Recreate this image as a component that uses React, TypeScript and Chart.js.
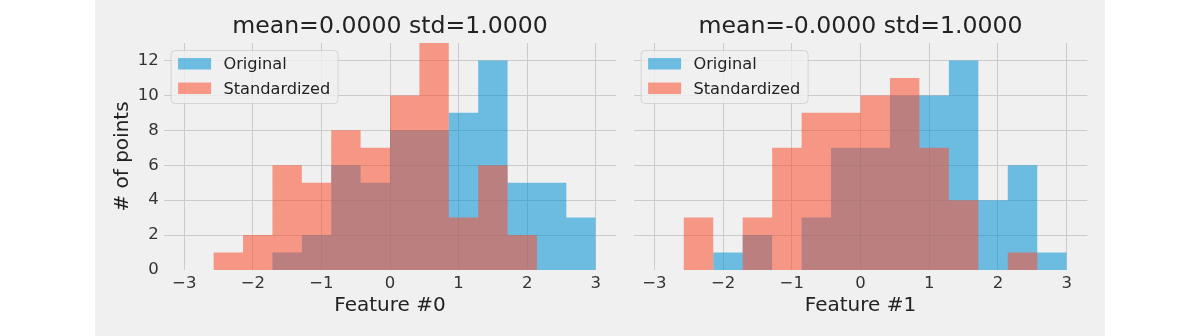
import { useEffect, useRef } from 'react';
import { Chart, registerables } from 'chart.js';

Chart.register(...registerables);

// Shared histogram bins (14 equal-width bins over [-3, 3])
const binEdges = [
  -3, -2.5714, -2.1429, -1.7143, -1.2857, -0.8571, -0.4286, 0,
  0.4286, 0.8571, 1.2857, 1.7143, 2.1429, 2.5714, 3,
];

// Counts per bin, Feature #0
const feature0Original = [0, 0, 0, 1, 2, 6, 5, 8, 8, 9, 12, 5, 5, 3];
const feature0Standardized = [0, 1, 2, 6, 5, 8, 7, 10, 13, 3, 6, 2, 0, 0];

// Counts per bin, Feature #1
const feature1Original = [0, 0, 1, 2, 0, 3, 7, 7, 10, 10, 12, 4, 6, 1];
const feature1Standardized = [0, 3, 0, 3, 7, 9, 9, 10, 11, 7, 4, 0, 1, 0];

const seriesLabels = ['Original', 'Standardized'];
const panelTitles = ['mean=0.0000 std=1.0000', 'mean=-0.0000 std=1.0000'];
const featureTitles = ['Feature #0', 'Feature #1'];
const yAxisTitle = '# of points';

const xTickValues = [-3, -2, -1, 0, 1, 2, 3];
const xTickLabels = ['\u22123', '\u22122', '\u22121', '0', '1', '2', '3'];
const yTickValues = [0, 2, 4, 6, 8, 10, 12];
const yTickLabels = ['0', '2', '4', '6', '8', '10', '12'];

const xLimits = [-3.3, 3.3];
const yLimits = [0, 13];

const FONT = "'DejaVu Sans', 'Liberation Sans', sans-serif";
const BLUE = 'rgba(0, 143, 213, 0.55)';
const RED = 'rgba(252, 79, 48, 0.55)';
const GRID = '#cbcbcb';
const TEXT = '#222222';
const TICK_TEXT = '#333333';

// Step outline of a histogram: one point per left bin edge, closed at the last edge.
function stepPoints(counts: number[]) {
  const pts = counts.map((c, i) => ({ x: binEdges[i], y: c }));
  pts.push({ x: binEdges[binEdges.length - 1], y: 0 });
  return pts;
}

// Framed legend in the upper-left corner of the plot area.
const framedLegend = {
  id: 'framedLegend',
  afterDatasetsDraw(chart: any) {
    const { ctx, chartArea } = chart;
    const x0 = chartArea.left + 7.4;
    const y0 = chartArea.top + 7.5;
    const w = 167;
    const h = 53;
    const r = 4;
    ctx.save();
    ctx.beginPath();
    ctx.moveTo(x0 + r, y0);
    ctx.lineTo(x0 + w - r, y0);
    ctx.arcTo(x0 + w, y0, x0 + w, y0 + r, r);
    ctx.lineTo(x0 + w, y0 + h - r);
    ctx.arcTo(x0 + w, y0 + h, x0 + w - r, y0 + h, r);
    ctx.lineTo(x0 + r, y0 + h);
    ctx.arcTo(x0, y0 + h, x0, y0 + h - r, r);
    ctx.lineTo(x0, y0 + r);
    ctx.arcTo(x0, y0, x0 + r, y0, r);
    ctx.closePath();
    ctx.fillStyle = 'rgba(240, 240, 240, 0.8)';
    ctx.fill();
    ctx.lineWidth = 1;
    ctx.strokeStyle = 'rgba(204, 204, 204, 0.8)';
    ctx.stroke();

    ctx.font = `16.2px ${FONT}`;
    ctx.textAlign = 'left';
    ctx.textBaseline = 'alphabetic';
    chart.data.datasets.forEach((ds: any, i: number) => {
      const rowY = y0 + i * 24.5;
      ctx.fillStyle = ds.backgroundColor;
      ctx.fillRect(x0 + 7, rowY + 7.5, 33, 11.5);
      ctx.fillStyle = TEXT;
      ctx.fillText(ds.label, x0 + 52.3, rowY + 18.6);
    });
    ctx.restore();
  },
};

type PanelSpec = {
  title: string;
  xTitle: string;
  original: number[];
  standardized: number[];
  showYLabels: boolean;
  yAxisWidth: number;
  padRight: number;
};

function buildChart(canvas: HTMLCanvasElement, p: PanelSpec) {
  return new Chart(canvas, {
    type: 'line',
    data: {
      datasets: [
        {
          label: seriesLabels[0],
          data: stepPoints(p.original),
          backgroundColor: BLUE,
          borderColor: 'transparent',
          borderWidth: 0,
          pointRadius: 0,
          stepped: 'before',
          fill: 'origin',
          order: 1,
        },
        {
          label: seriesLabels[1],
          data: stepPoints(p.standardized),
          backgroundColor: RED,
          borderColor: 'transparent',
          borderWidth: 0,
          pointRadius: 0,
          stepped: 'before',
          fill: 'origin',
          order: 0,
        },
      ],
    },
    options: {
      responsive: false,
      animation: false,
      events: [],
      layout: { padding: { left: 0, right: p.padRight, top: 0, bottom: 0 } },
      plugins: {
        legend: { display: false },
        tooltip: { enabled: false },
        title: {
          display: true,
          text: p.title,
          fullSize: false,
          color: TEXT,
          font: { family: FONT, size: 23.6, weight: 'normal' },
          padding: { top: 12.9, bottom: 1.8 },
        },
      },
      scales: {
        x: {
          type: 'linear',
          min: xLimits[0],
          max: xLimits[1],
          afterBuildTicks: (s: any) => {
            s.ticks = xTickValues.map((v) => ({ value: v }));
          },
          afterFit: (s: any) => {
            s.height = 66;
          },
          grid: { color: GRID, lineWidth: 1, drawTicks: false },
          border: { display: false },
          ticks: {
            autoSkip: false,
            maxRotation: 0,
            padding: 3.4,
            color: TICK_TEXT,
            font: { family: FONT, size: 16.5 },
            callback: (_v: any, i: number) => xTickLabels[i],
          },
          title: {
            display: true,
            text: p.xTitle,
            color: TEXT,
            font: { family: FONT, size: 20 },
            padding: { top: 0, bottom: 17.9 },
          },
        },
        y: {
          type: 'linear',
          min: yLimits[0],
          max: yLimits[1],
          afterBuildTicks: (s: any) => {
            s.ticks = yTickValues.map((v) => ({ value: v }));
          },
          afterFit: (s: any) => {
            s.width = p.yAxisWidth;
          },
          grid: {
            // the zero line sits on the lower plot edge and is not drawn
            color: (c: any) => (c.tick && c.tick.value === 0 ? 'rgba(0,0,0,0)' : GRID),
            lineWidth: 1,
            drawTicks: false,
          },
          border: { display: false },
          ticks: {
            display: p.showYLabels,
            padding: 5,
            color: TICK_TEXT,
            font: { family: FONT, size: 16.5 },
            callback: (_v: any, i: number) => yTickLabels[i],
          },
          title: {
            display: p.showYLabels,
            text: yAxisTitle,
            color: TEXT,
            font: { family: FONT, size: 20 },
            padding: { top: 15.6, bottom: 0 },
          },
        },
      },
    } as any,
    plugins: [framedLegend],
  });
}

export default function App() {
  const leftRef = useRef<HTMLCanvasElement>(null);
  const rightRef = useRef<HTMLCanvasElement>(null);

  useEffect(() => {
    const charts: Chart[] = [];
    if (leftRef.current) {
      charts.push(
        buildChart(leftRef.current, {
          title: panelTitles[0],
          xTitle: featureTitles[0],
          original: feature0Original,
          standardized: feature0Standardized,
          showYLabels: true,
          yAxisWidth: 68.7,
          padRight: 8.7,
        })
      );
    }
    if (rightRef.current) {
      charts.push(
        buildChart(rightRef.current, {
          title: panelTitles[1],
          xTitle: featureTitles[1],
          original: feature1Original,
          standardized: feature1Standardized,
          showYLabels: false,
          yAxisWidth: 8.7,
          padRight: 17.7,
        })
      );
    }
    return () => charts.forEach((c) => c.destroy());
  }, []);

  return (
    <div
      style={{
        position: 'fixed',
        left: 0,
        top: 0,
        width: 1200,
        height: 336,
        background: '#ffffff',
        overflow: 'hidden',
      }}
    >
      <div
        style={{
          position: 'absolute',
          left: 95,
          top: 0,
          width: 1010,
          height: 336,
          background: '#f0f0f0',
        }}
      />
      <canvas
        ref={leftRef}
        width={530}
        height={336}
        style={{ position: 'absolute', left: 95, top: 0, display: 'block' }}
      />
      <canvas
        ref={rightRef}
        width={480}
        height={336}
        style={{ position: 'absolute', left: 625, top: 0, display: 'block' }}
      />
    </div>
  );
}
